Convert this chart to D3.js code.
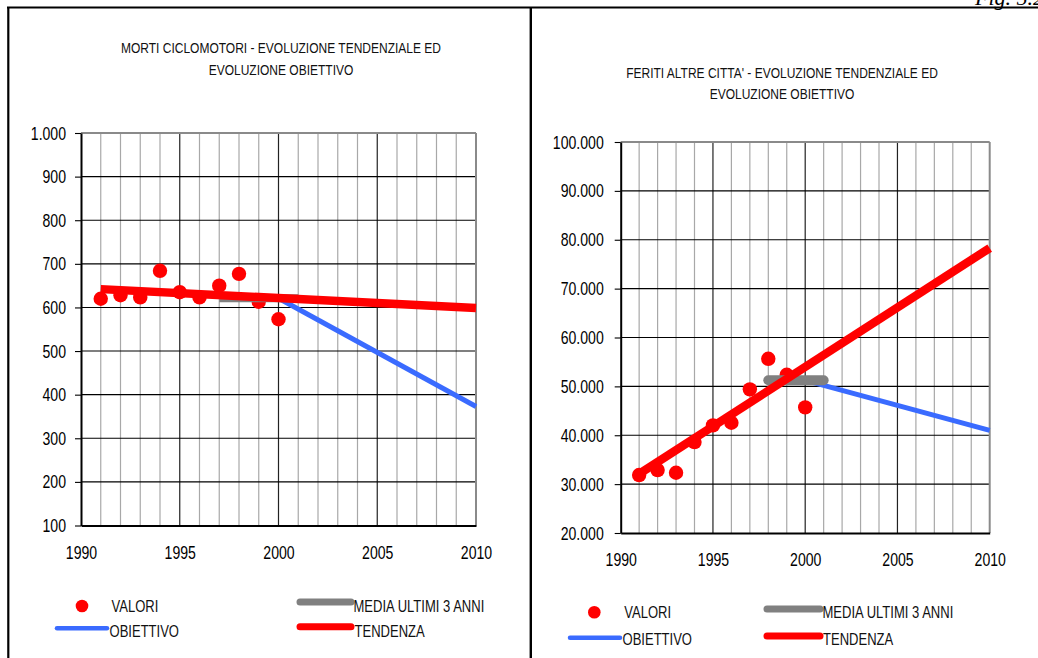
<!DOCTYPE html>
<html><head><meta charset="utf-8">
<script src="https://cdn.jsdelivr.net/npm/d3@7"></script>
<style>
html,body{margin:0;padding:0;background:#fff;}
svg{display:block;font-family:"Liberation Sans",Arial,sans-serif;}
</style></head><body>
<svg id="c" width="1038" height="658"></svg>
<script>
// ---------- DATA ----------
const years = [1991,1992,1993,1994,1995,1996,1997,1998,1999,2000];
const xTickLabels = [1990,1995,2000,2005,2010];
const legendLabels = ["VALORI","OBIETTIVO","MEDIA ULTIMI 3 ANNI","TENDENZA"];
const figLabel = "Fig. 5.2";

const mortiTitle = ["MORTI CICLOMOTORI - EVOLUZIONE TENDENZIALE ED","EVOLUZIONE OBIETTIVO"];
const mortiValori = [620,628,623,684,635,623,650,677,613,573];
const mortiTendenzaYears = [1991,2010];
const mortiTendenza = [642,599];
const mortiMediaYears = [1997,2001];
const mortiMedia = [621,621];
const mortiObiettivoYears = [2000,2010];
const mortiObiettivo = [621,373];
const mortiTicks = [100,200,300,400,500,600,700,800,900,1000];

const feritiTitle = ["FERITI ALTRE CITTA' - EVOLUZIONE TENDENZIALE ED","EVOLUZIONE OBIETTIVO"];
const feritiValori = [31860,32880,32330,38610,42020,42560,49390,55640,52370,45710];
const feritiTendenzaYears = [1991,2010];
const feritiTendenza = [32100,78300];
const feritiMediaYears = [1998,2001];
const feritiMedia = [51240,51240];
const feritiObiettivoYears = [2000,2010];
const feritiObiettivo = [51240,40990];
const feritiTicks = [20000,30000,40000,50000,60000,70000,80000,90000,100000];

// ---------- DRAW ----------
const svg = d3.select("#c");
const itFmt = d3.formatLocale({decimal:",",thousands:".",grouping:[3],currency:["€",""]}).format(",d");
const RED="#ff0000", BLUE="#3a6bff", GRAY="#808080";

function condense(sel,f){
  sel.each(function(){
    const w=this.getComputedTextLength();
    this.setAttribute("textLength",(w*f).toFixed(2));
    this.setAttribute("lengthAdjust","spacingAndGlyphs");
  });
}

// frame
svg.append("line").attr("x1",7).attr("x2",1038).attr("y1",7.5).attr("y2",7.5).attr("stroke","#000").attr("stroke-width",2.2);
svg.append("line").attr("x1",8.3).attr("x2",8.3).attr("y1",7).attr("y2",658).attr("stroke","#000").attr("stroke-width",2.2);
svg.append("line").attr("x1",530.8).attr("x2",530.8).attr("y1",7).attr("y2",658).attr("stroke","#000").attr("stroke-width",2.4);
svg.append("text").attr("x",975).attr("y",4.5).attr("font-family","'Liberation Serif',serif")
  .attr("font-style","italic").attr("font-size",22).attr("fill","#000").text(figLabel);

function drawChart(c){
  const g = svg.append("g");
  const x = d3.scaleLinear().domain([1990,2010]).range([c.x0,c.x1]);
  const y = d3.scaleLinear().domain([c.ticks[0],c.ticks[c.ticks.length-1]]).range([c.y0,c.y1]);

  // title
  c.title.forEach((t,i)=>{
    const tt=g.append("text").attr("x",c.titleX).attr("y",c.titleY[i]).attr("text-anchor","middle")
      .attr("font-size",15).attr("fill","#111").text(t);
    condense(tt,0.8);
  });

  // grid verticals
  const yrs = d3.range(1991,2010);
  g.selectAll(null).data(yrs).join("line")
    .attr("x1",d=>x(d)).attr("x2",d=>x(d)).attr("y1",c.y1).attr("y2",c.y0)
    .attr("stroke",d=>d%5===0?"#222":"#a8a8a8").attr("stroke-width",1.2);
  // grid horizontals
  g.selectAll(null).data(c.ticks.slice(1,-1)).join("line")
    .attr("x1",c.x0).attr("x2",c.x1).attr("y1",d=>y(d)).attr("y2",d=>y(d))
    .attr("stroke","#000").attr("stroke-width",1.1);
  // top & right border (gray)
  g.append("line").attr("x1",c.x0).attr("x2",c.x1).attr("y1",c.y1).attr("y2",c.y1).attr("stroke","#8a8a8a").attr("stroke-width",2);
  g.append("line").attr("x1",c.x1).attr("x2",c.x1).attr("y1",c.y1).attr("y2",c.y0).attr("stroke","#8a8a8a").attr("stroke-width",2);

  // axes
  const ya = g.append("g").attr("transform",`translate(${c.x0},0)`)
    .call(d3.axisLeft(y).tickValues(c.ticks).tickFormat(itFmt).tickSizeInner(6).tickSizeOuter(0).tickPadding(c.yPad));
  ya.select(".domain").attr("stroke","#000").attr("stroke-width",2);
  ya.selectAll(".tick line").attr("stroke","#000").attr("stroke-width",1.1);
  ya.selectAll("text").attr("font-size",19).attr("font-family","'Liberation Sans',Arial,sans-serif").attr("fill","#000");
  condense(ya.selectAll("text"),0.74);

  const xa = g.append("g").attr("transform",`translate(0,${c.y0})`)
    .call(d3.axisBottom(x).tickValues(xTickLabels).tickFormat(d3.format("d")).tickSizeInner(0).tickSizeOuter(0).tickPadding(c.xPad));
  xa.select(".domain").attr("stroke","#000").attr("stroke-width",2);
  xa.selectAll("text").attr("font-size",19).attr("font-family","'Liberation Sans',Arial,sans-serif").attr("fill","#000");
  condense(xa.selectAll("text"),0.74);

  // valori (dots) first
  g.selectAll(null).data(years.map((yr,i)=>[yr,c.valori[i]])).join("circle")
    .attr("cx",d=>x(d[0])).attr("cy",d=>y(d[1])).attr("r",7.2).attr("fill",RED);

  const line = d3.line().x(d=>x(d[0])).y(d=>y(d[1]));
  const pairs=(ys,vs)=>ys.map((yr,i)=>[yr,vs[i]]);
  g.append("path").attr("d",line(pairs(c.objYears,c.obj))).attr("fill","none").attr("stroke",BLUE).attr("stroke-width",5);
  g.append("path").attr("d",line(pairs(c.medYears,c.med))).attr("fill","none").attr("stroke",GRAY).attr("stroke-width",c.medW).attr("stroke-linecap",c.medCap);
  g.append("path").attr("d",line(pairs(c.tenYears,c.ten))).attr("fill","none").attr("stroke",RED).attr("stroke-width",8.5);

  // legend
  const L=c.leg;
  const lg = svg.append("g");
  lg.append("circle").attr("cx",L.dotX).attr("cy",L.dotY).attr("r",6.3).attr("fill",RED);
  lg.append("line").attr("x1",L.bx1).attr("x2",L.bx2).attr("y1",L.by).attr("y2",L.by).attr("stroke",BLUE).attr("stroke-width",4.5).attr("stroke-linecap","round");
  lg.append("line").attr("x1",L.gx1).attr("x2",L.gx2).attr("y1",L.gy).attr("y2",L.gy).attr("stroke",GRAY).attr("stroke-width",7).attr("stroke-linecap","round");
  lg.append("line").attr("x1",L.gx1).attr("x2",L.gx2).attr("y1",L.ry).attr("y2",L.ry).attr("stroke",RED).attr("stroke-width",7).attr("stroke-linecap","round");
  const lt=[[L.vx,L.t1],[L.ox,L.t2],[L.mx,L.t1],[L.tx,L.t2]];
  const txt = lg.selectAll(null).data(legendLabels).join("text")
    .attr("x",(d,i)=>lt[i][0]).attr("y",(d,i)=>lt[i][1]).attr("font-size",16.3).attr("fill","#111").text(d=>d);
  condense(txt,0.8);
}

drawChart({
  title:mortiTitle, titleX:281, titleY:[53,74.5],
  x0:81, x1:476, y0:525.5, y1:133, ticks:mortiTicks, yPad:9, xPad:20.5,
  valori:mortiValori, tenYears:mortiTendenzaYears, ten:mortiTendenza,
  medYears:mortiMediaYears, med:mortiMedia, objYears:mortiObiettivoYears, obj:mortiObiettivo,
  medW:8, medCap:"butt",
  leg:{dotX:82,dotY:606,bx1:57,bx2:107,by:628.3,gx1:300,gx2:351,gy:602,ry:626.7,
       vx:111.5,ox:109.5,mx:353.5,tx:354.5,t1:612,t2:636.5}
});
drawChart({
  title:feritiTitle, titleX:782, titleY:[77.5,98.5],
  x0:620.7, x1:989.7, y0:533, y1:142, ticks:feritiTicks, yPad:11, xPad:19.5,
  valori:feritiValori, tenYears:feritiTendenzaYears, ten:feritiTendenza,
  medYears:feritiMediaYears, med:feritiMedia, objYears:feritiObiettivoYears, obj:feritiObiettivo,
  medW:10, medCap:"round",
  leg:{dotX:594.3,dotY:612.3,bx1:570,bx2:620,by:637.7,gx1:767,gx2:820,gy:609,ry:636,
       vx:624.3,ox:622.5,mx:822.5,tx:823,t1:618.3,t2:645}
});
</script>
</body></html>
